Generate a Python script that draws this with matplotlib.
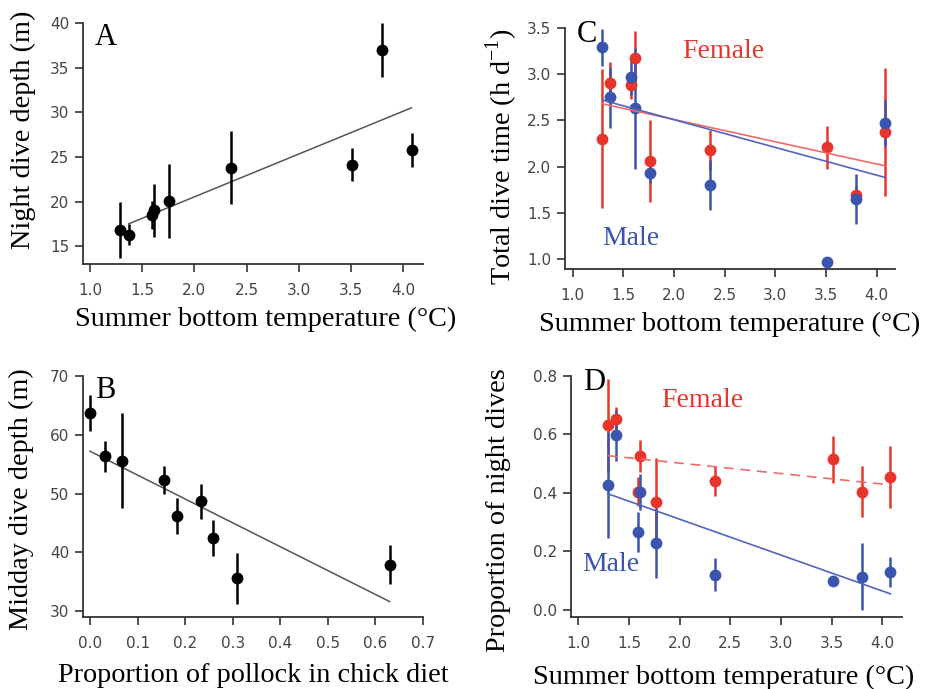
import matplotlib
matplotlib.use("Agg")
import matplotlib.pyplot as plt
import numpy as np

# ---------------- Data ----------------
# Panel A
a_temp = [1.29, 1.37, 1.59, 1.61, 1.76, 2.35, 3.51, 3.80, 4.08]
a_depth = [16.8, 16.3, 18.5, 19.0, 20.1, 23.8, 24.1, 37.0, 25.8]
a_err = [3.1, 1.15, 1.55, 2.95, 4.15, 4.1, 1.85, 3.05, 1.9]
a_fit_x = [1.37, 4.08]
a_fit_y = [17.5, 30.5]

# Panel B
b_pollock = [0.0, 0.032, 0.0665, 0.156, 0.182, 0.233, 0.258, 0.309, 0.63]
b_depth = [63.7, 56.3, 55.6, 52.3, 46.2, 48.7, 42.4, 35.6, 37.9]
b_err = [3.1, 2.65, 8.15, 2.4, 3.1, 3.0, 3.05, 4.35, 3.3]
b_fit_x = [0.0, 0.63]
b_fit_y = [57.2, 31.6]

# Panel C
c_temp = [1.29, 1.37, 1.58, 1.61, 1.76, 2.35, 3.51, 3.80, 4.08]
c_female = [2.30, 2.90, 2.88, 3.17, 2.06, 2.18, 2.21, 1.69, 2.37]
c_female_err = [0.75, 0.23, 0.15, 0.29, 0.44, 0.22, 0.23, 0.10, 0.69]
c_male = [3.29, 2.75, 2.97, 2.63, 1.93, 1.80, 0.97, 1.65, 2.47]
c_male_err = [0.20, 0.33, 0.20, 0.65, 0.11, 0.27, 0.0, 0.27, 0.25]
c_fit_x = [1.29, 4.08]
c_fit_female = [2.68, 2.01]
c_fit_male = [2.72, 1.885]

# Panel D
d_temp = [1.29, 1.37, 1.585, 1.61, 1.77, 2.35, 3.51, 3.80, 4.08]
d_female = [0.630, 0.652, 0.404, 0.526, 0.369, 0.440, 0.514, 0.403, 0.454]
d_female_err = [0.16, 0.04, 0.05, 0.056, 0.15, 0.05, 0.079, 0.087, 0.105]
d_male = [0.427, 0.596, 0.266, 0.403, 0.229, 0.121, 0.098, 0.114, 0.130]
d_male_err = [0.18, 0.088, 0.068, 0.06, 0.12, 0.055, 0.0, 0.115, 0.05]
d_fit_x = [1.29, 4.08]
d_fit_female = [0.527, 0.427]
d_fit_male = [0.397, 0.055]

temp_ticks = [1.0, 1.5, 2.0, 2.5, 3.0, 3.5, 4.0]
temp_ticklabels = ["1.0", "1.5", "2.0", "2.5", "3.0", "3.5", "4.0"]

# ---------------- Style ----------------
RED = "#e8352b"
BLUE = "#3a55ad"
RED_LINE = "#f06a6a"
BLUE_LINE = "#5464bd"
SERIF = ["Liberation Serif", "DejaVu Serif"]
TICKC = "#444444"

W, H = 925, 689
fig = plt.figure(figsize=(W / 100, H / 100), dpi=100)


def make_ax(l, r, t, b):
    return fig.add_axes([l / W, 1 - b / H, (r - l) / W, (b - t) / H])


def style(ax):
    for s in ["top", "right"]:
        ax.spines[s].set_visible(False)
    for s in ["left", "bottom"]:
        ax.spines[s].set_color("#333333")
        ax.spines[s].set_linewidth(1.3)
    ax.tick_params(direction="out", length=6, width=1.2, color="#333333",
                   labelsize=11, labelcolor=TICKC)
    ax.tick_params(axis="x", pad=8)
    ax.tick_params(axis="y", pad=4)
    for lab in ax.get_xticklabels() + ax.get_yticklabels():
        lab.set_family("DejaVu Sans")


def ebar(ax, x, y, e, color, ms=8.5, lw=1.8):
    ax.errorbar(x, y, yerr=e, fmt="o", color=color, ms=ms, lw=lw,
                capsize=0, mew=0, zorder=3)


label_kw = dict(fontsize=20.3, family=SERIF, color="black")

# Panel A
axA = make_ax(83, 423, 23, 264)
ebar(axA, a_temp, a_depth, a_err, "black")
axA.plot(a_fit_x, a_fit_y, color="#555555", lw=1.1, zorder=2)
axA.set_xlim(0.933, 4.19)
axA.set_ylim(13.0, 40)
axA.set_xticks(temp_ticks)
axA.set_xticklabels(temp_ticklabels)
axA.set_yticks([15, 20, 25, 30, 35, 40])
style(axA)
axA.set_xlabel("Summer bottom temperature (°C)", labelpad=6, **label_kw)
axA.set_ylabel("Night dive depth (m)", labelpad=10, **label_kw)
axA.xaxis.label.set_x(0.538)
axA.yaxis.label.set_y(0.556)
axA.text(0.035, 1.0, "A", transform=axA.transAxes, fontsize=22, family=SERIF,
         va="top", ha="left")

# Panel B
axB = make_ax(83, 423, 376, 617)
ebar(axB, b_pollock, b_depth, b_err, "black")
axB.plot(b_fit_x, b_fit_y, color="#555555", lw=1.1, zorder=2)
axB.set_xlim(-0.0147, 0.7)
axB.set_ylim(28.98, 70)
axB.set_xticks([0.0, 0.1, 0.2, 0.3, 0.4, 0.5, 0.6, 0.7])
axB.set_xticklabels(["0.0", "0.1", "0.2", "0.3", "0.4", "0.5", "0.6", "0.7"])
axB.set_yticks([30, 40, 50, 60, 70])
style(axB)
axB.set_xlabel("Proportion of pollock in chick diet", labelpad=8, **label_kw)
axB.set_ylabel("Midday dive depth (m)", labelpad=11, **label_kw)
axB.yaxis.label.set_y(0.49)
axB.text(0.035, 1.0, "B", transform=axB.transAxes, fontsize=22, family=SERIF,
         va="top", ha="left")

# Panel C
axC = make_ax(565, 895, 27.7, 268.7)
ebar(axC, c_temp, c_female, c_female_err, RED)
ebar(axC, c_temp, c_male, c_male_err, BLUE)
axC.plot(c_fit_x, c_fit_female, color=RED_LINE, lw=1.2, zorder=4)
axC.plot(c_fit_x, c_fit_male, color=BLUE_LINE, lw=1.2, zorder=4)
axC.set_xlim(0.924, 4.18)
axC.set_ylim(0.9, 3.5)
axC.set_xticks(temp_ticks)
axC.set_xticklabels(temp_ticklabels)
axC.set_yticks([1.0, 1.5, 2.0, 2.5, 3.0, 3.5])
axC.set_yticklabels(["1.0", "1.5", "2.0", "2.5", "3.0", "3.5"])
style(axC)
axC.set_xlabel("Summer bottom temperature (°C)", labelpad=6, **label_kw)
axC.set_ylabel("Total dive time (h d$^{\\mathregular{-1}}$)", labelpad=5, **label_kw)
axC.yaxis.label.set_y(0.463)
axC.text(0.035, 1.03, "C", transform=axC.transAxes, fontsize=22, family=SERIF,
         va="top", ha="left")
axC.text(2.08, 3.24, "Female", color=RED, fontsize=20, family=SERIF,
         ha="left", va="center")
axC.text(1.29, 1.23, "Male", color=BLUE, fontsize=20, family=SERIF,
         ha="left", va="center")

# Panel D
axD = make_ax(571, 902, 375.7, 616.7)
ebar(axD, d_temp, d_female, d_female_err, RED)
ebar(axD, d_temp, d_male, d_male_err, BLUE)
axD.plot(d_fit_x, d_fit_female, color=RED_LINE, lw=1.2, ls=(0, (6, 4)), zorder=4)
axD.plot(d_fit_x, d_fit_male, color=BLUE_LINE, lw=1.2, zorder=4)
axD.set_xlim(0.928, 4.194)
axD.set_ylim(-0.023, 0.8)
axD.set_xticks(temp_ticks)
axD.set_xticklabels(temp_ticklabels)
axD.set_yticks([0.0, 0.2, 0.4, 0.6, 0.8])
axD.set_yticklabels(["0.0", "0.2", "0.4", "0.6", "0.8"])
style(axD)
axD.set_xlabel("Summer bottom temperature (°C)", labelpad=10, **label_kw)
axD.set_ylabel("Proportion of night dives", labelpad=16, **label_kw)
axD.xaxis.label.set_x(0.462)
axD.yaxis.label.set_y(0.443)
axD.text(0.035, 1.03, "D", transform=axD.transAxes, fontsize=22, family=SERIF,
         va="top", ha="left")
axD.text(1.82, 0.717, "Female", color=RED, fontsize=20, family=SERIF,
         ha="left", va="center")
axD.text(1.04, 0.154, "Male", color=BLUE, fontsize=20, family=SERIF,
         ha="left", va="center")

fig.savefig("out.png", dpi=100, facecolor="white")
